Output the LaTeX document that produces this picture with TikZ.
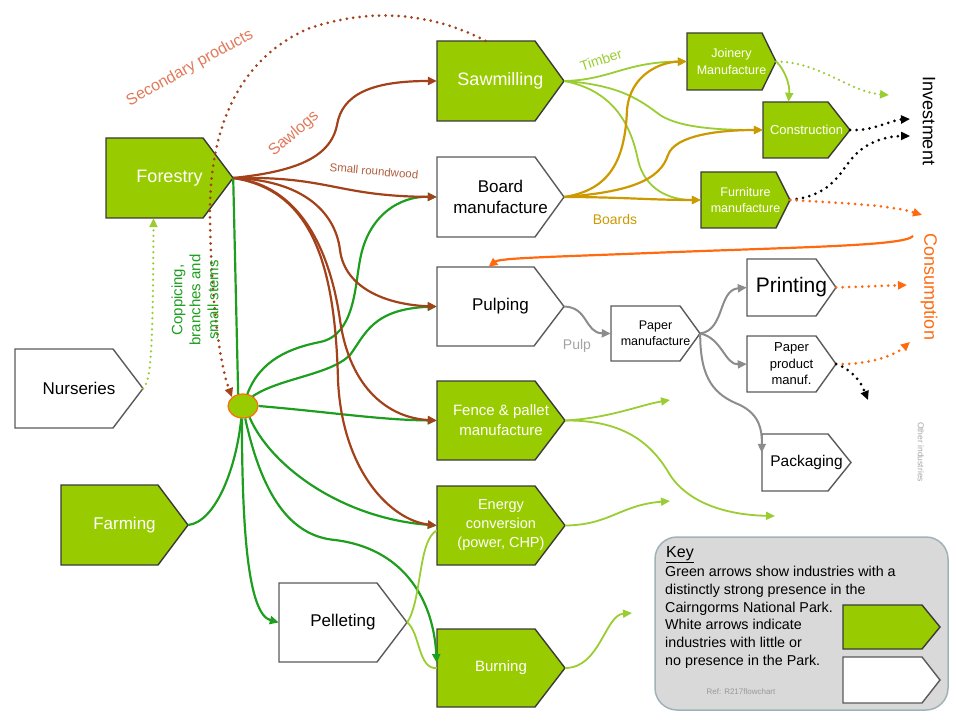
\documentclass[tikz,border=0pt]{standalone}
\usepackage{fontspec}
\setmainfont{Liberation Sans}
\usetikzlibrary{arrows.meta,shapes.geometric}
\definecolor{limefill}{HTML}{99CC00}
\definecolor{bordg}{HTML}{3A3A3A}
\definecolor{bordw}{HTML}{5A5A5A}
\definecolor{brn}{HTML}{A3421A}
\definecolor{dgreen}{HTML}{1E9E1E}
\definecolor{lgreen}{HTML}{9ACD32}
\definecolor{goldc}{HTML}{CC9900}
\definecolor{orgc}{HTML}{FF6A10}
\definecolor{gryc}{HTML}{8C8C8C}
\definecolor{salmonc}{HTML}{E07A5A}
\definecolor{keyfill}{HTML}{D9D9D9}
\definecolor{keybord}{HTML}{A0B2B8}
% name, x1, y1, x2(tip), y2, point depth, style, font, text
\newcommand{\abox}[9]{%
  \filldraw[#7] (#2,#3) -- ({#4-#6},#3) -- (#4,{(#3+#5)/2}) -- ({#4-#6},#5) -- (#2,#5) -- cycle;
  \node[inner sep=0pt, minimum width={(#4-#2)*1pt}, minimum height={(#5-#3)*1pt}, align=center, font={#8}, #7text] (#1) at ({(#2+#4)/2},{(#3+#5)/2}) {#9};
}
\begin{document}
\begin{tikzpicture}[x=1pt,y=-1pt,
  gbox/.style={fill=limefill, draw=bordg, line width=1.4pt, line join=miter},
  gboxtext/.style={text=white},
  wbox/.style={fill=white, draw=bordw, line width=1.4pt, line join=miter},
  wboxtext/.style={text=black},
  tip/.style={-{Triangle[length=9pt,width=8pt]}},
  brline/.style={draw=brn, line width=2.2pt, tip},
  dgline/.style={draw=dgreen, line width=2.2pt},
  lgline/.style={draw=lgreen, line width=1.8pt},
  gdline/.style={draw=goldc, line width=2.2pt, tip},
  gyline/.style={draw=gryc, line width=2pt, tip},
  dotline/.style={line width=3pt, line cap=round, dash pattern=on 0pt off 6.5pt, -{Triangle[length=9pt,width=8pt]}},
  lbl/.style={inner sep=0pt}
]
\useasboundingbox (0,0) rectangle (956,722);

% ---------- boxes ----------
\abox{forestry}{106}{138}{233}{218}{30}{gbox}{\fontsize{18}{20}\selectfont}{Forestry}
\abox{saw}{437}{41}{564}{121}{29}{gbox}{\fontsize{18}{20}\selectfont}{Sawmilling}
\abox{board}{437}{157}{564}{237}{29}{wbox}{\fontsize{17}{21}\selectfont}{Board\\manufacture}
\abox{pulp}{437}{267}{564}{346}{30}{wbox}{\fontsize{17}{20}\selectfont}{Pulping}
\abox{fence}{437}{381}{565}{460}{30}{gbox}{\fontsize{15}{20}\selectfont}{Fence \& pallet\\manufacture}
\abox{energy}{437}{486}{565}{565}{30}{gbox}{\fontsize{14.5}{19}\selectfont}{Energy\\conversion\\(power, CHP)}
\abox{burning}{437}{629}{565}{707}{30}{gbox}{\fontsize{15}{18}\selectfont}{Burning}
\abox{pellet}{279}{583}{407}{662}{30}{wbox}{\fontsize{17}{20}\selectfont}{Pelleting}
\abox{farming}{61}{485}{188}{565}{30}{gbox}{\fontsize{17}{20}\selectfont}{Farming}
\abox{nurseries}{15}{349}{143}{428}{30}{wbox}{\fontsize{17}{20}\selectfont}{Nurseries}
\abox{joinery}{687}{33}{776}{90}{14}{gbox}{\fontsize{12.5}{16.5}\selectfont}{Joinery\\Manufacture}
\abox{construction}{763}{102}{850}{158}{22}{gbox}{\fontsize{13}{16}\selectfont}{Construction}
\abox{furniture}{701}{172}{790}{228}{14}{gbox}{\fontsize{12.5}{16.5}\selectfont}{Furniture\\manufacture}
\abox{paperm}{611}{306}{700}{361}{20}{wbox}{\fontsize{12.5}{16}\selectfont}{Paper\\manufacture}
\abox{printing}{747}{259}{836}{316}{20}{wbox}{\fontsize{21}{24}\selectfont}{Printing}
\abox{paperp}{747}{336}{836}{392}{20}{wbox}{\fontsize{13}{16.5}\selectfont}{Paper\\product\\manuf.}
\abox{packaging}{762}{434}{851}{491}{23}{wbox}{\fontsize{15.5}{18}\selectfont}{Packaging}

% hub
\node[ellipse, fill=limefill, draw=orgc, line width=1.2pt, minimum width=30pt, minimum height=24pt, inner sep=0pt] (hub) at (243,406) {};

% free end points
\coordinate (inv1) at (889,95);
\coordinate (inv2) at (910,119);
\coordinate (inv3) at (910,136);
\coordinate (cons0) at (913,236);
\coordinate (cons1) at (922,215);
\coordinate (cons2) at (907,285);
\coordinate (cons3) at (910,342);
\coordinate (oth1) at (868,400);
\coordinate (out1) at (670,400);
\coordinate (out2) at (775,516);
\coordinate (out3) at (670,501);
\coordinate (out4) at (632,613);

% ---------- dark green lines ----------
\draw[dgline] (forestry.east) -- (hub.112);
\draw[dgline, tip] (hub.70) .. controls (260,360) and (290,348) .. (320,342) .. controls (355,335) and (355,285) .. (360,260) .. controls (368,215) and (400,196) .. (board.west);
\draw[dgline, tip] (hub.45) .. controls (280,378) and (330,375) .. (350,355) .. controls (365,335) and (372,309) .. (pulp.west);
\draw[dgline, tip] (hub.east) .. controls (330,412) and (380,420) .. (fence.west);
\draw[dgline, tip] (hub.-60) .. controls (270,465) and (340,518) .. (energy.west);
\draw[dgline, tip] (hub.-80) .. controls (262,495) and (290,536) .. (335,540) .. controls (400,548) and (433,595) .. ([yshift=5pt]burning.west);
\draw[dgline, tip] (hub.-95) .. controls (242,530) and (248,614) .. (pellet.west);
\draw[dgline] (farming.east) .. controls (215,522) and (236,470) .. (hub.-98);

% ---------- brown lines ----------
\draw[brline] (forestry.east) .. controls (290,172) and (330,160) .. (337,125) .. controls (342,95) and (370,81) .. (saw.west);
\draw[brline] (forestry.east) .. controls (330,176) and (335,196) .. (board.west);
\draw[brline] (forestry.east) .. controls (300,180) and (335,210) .. (340,250) .. controls (345,290) and (390,305) .. (pulp.west);
\draw[brline] (forestry.east) .. controls (300,185) and (330,250) .. (340,320) .. controls (350,390) and (390,418) .. (fence.west);
\draw[brline] (forestry.east) .. controls (310,190) and (335,260) .. (338,380) .. controls (342,470) and (390,520) .. (energy.west);

% secondary products dotted
\draw[dotline, brn] ([xshift=-15pt]saw.north) .. controls (430,12) and (370,8) .. (310,28) .. controls (245,55) and (208,120) .. (210,220) .. controls (212,320) and (222,370) .. (hub.north west);

% nurseries dotted
\draw[dotline, lgreen, line width=2.5pt, dash pattern=on 0pt off 5.5pt] (nurseries.east) .. controls (150,380) and (153,365) .. ([xshift=-16pt]forestry.south);

% ---------- sawmilling / boards ----------
\draw[lgline, tip] (saw.east) .. controls (610,80) and (625,62) .. (joinery.west);
\draw[lgline, tip] (saw.east) .. controls (620,85) and (640,100) .. (660,115) .. controls (680,128) and (720,130) .. (construction.west);
\draw[lgline, tip] (saw.east) .. controls (610,90) and (630,120) .. (638,160) .. controls (645,190) and (670,200) .. (furniture.west);
\draw[gdline] (board.east) .. controls (610,190) and (625,160) .. (627,110) .. controls (630,75) and (660,62) .. (joinery.west);
\draw[gdline] (board.east) .. controls (630,192) and (660,180) .. (668,155) .. controls (675,135) and (720,130) .. (construction.west);
\draw[gdline] (board.east) .. controls (620,197) and (650,200) .. (furniture.west);
\draw[lgline, tip] (joinery.east) .. controls (785,70) and (790,85) .. ([xshift=-18pt]construction.north);

% investment / consumption dotted
\draw[dotline, lgreen, line width=2.5pt, dash pattern=on 0pt off 5.5pt] (joinery.east) .. controls (820,62) and (850,92) .. (inv1);
\draw[dotline, black] (construction.east) .. controls (875,131) and (890,120) .. (inv2);
\draw[dotline, black] (furniture.east) .. controls (835,195) and (840,170) .. (855,155) .. controls (870,140) and (890,136) .. (inv3);
\draw[dotline, orgc] (furniture.east) .. controls (840,203) and (890,205) .. (cons1);
\draw[dotline, orgc] (printing.east) -- (cons2);
\draw[dotline, orgc] (paperp.east) .. controls (870,365) and (895,355) .. (cons3);
\draw[dotline, black] (paperp.east) .. controls (852,370) and (860,380) .. (oth1);
\draw[draw=orgc, line width=2.2pt, tip] (cons0) .. controls (905,246) and (800,247) .. (650,253) .. controls (550,257) and (500,258) .. ([xshift=-12pt]pulp.north);

% gray paper lines
\draw[gyline] (pulp.east) .. controls (588,307) and (585,333) .. (paperm.west);
\draw[gyline] (paperm.east) .. controls (725,330) and (718,290) .. (printing.west);
\draw[gyline] (paperm.east) .. controls (722,338) and (725,365) .. (paperp.west);
\draw[gyline] (paperm.east) .. controls (700,380) and (715,395) .. (740,405) .. controls (760,415) and (762,430) .. ([yshift=-19pt]packaging.north west);

% light green outputs
\draw[lgline, tip] (fence.east) .. controls (610,418) and (640,405) .. (out1);
\draw[lgline, tip] (fence.east) .. controls (620,420) and (650,440) .. (670,475) .. controls (690,505) and (730,515) .. (out2);
\draw[lgline, tip] (energy.east) .. controls (610,525) and (620,505) .. (out3);
\draw[lgline, tip] (burning.east) .. controls (600,668) and (605,615) .. (out4);
\draw[lgline] (pellet.east) .. controls (422,600) and (418,540) .. ([yshift=-5pt]energy.west);
\draw[lgline] (pellet.east) .. controls (420,632) and (418,670) .. (burning.west);

% ---------- labels ----------
\node[lbl, text=salmonc, rotate=29, font=\fontsize{16}{18}\selectfont] (lsec) at (190,68) {Secondary products};
\node[lbl, text=salmonc, rotate=41, font=\fontsize{16}{18}\selectfont] (lsaw) at (294,134) {Sawlogs};
\node[lbl, text=brn!85, rotate=-5, font=\fontsize{11.5}{13}\selectfont] (lsmall) at (374,171) {Small roundwood};
\node[lbl, text=lgreen, rotate=18, font=\fontsize{14}{16}\selectfont] (ltimber) at (601,60) {Timber};
\node[lbl, text=goldc, font=\fontsize{14}{16}\selectfont] (lboards) at (615,219) {Boards};
\node[lbl, text=gryc!80, font=\fontsize{14}{16}\selectfont] (lpulp) at (577,346) {Pulp};
\node[lbl, text=dgreen, rotate=90, align=center, font=\fontsize{15}{18}\selectfont] (lcop) at (195,300) {Coppicing,\\branches and\\small stems};
\node[lbl, text=black, rotate=-90, font=\fontsize{18}{20}\selectfont] (linv) at (929,121) {Investment};
\node[lbl, text=orgc, rotate=-90, font=\fontsize{18}{20}\selectfont] (lcons) at (929,287) {Consumption};
\node[lbl, text=gray!70, rotate=-90, font=\fontsize{8.5}{10}\selectfont] (loth) at (921,452) {Other industries};

% ---------- key ----------
\filldraw[fill=keyfill, draw=keybord, line width=1.5pt, rounded corners=22pt] (655,537) rectangle (948,710);
\abox{keyg}{843}{605}{940}{649}{18}{gbox}{\normalsize}{}
\abox{keyw}{843}{657}{940}{703}{18}{wbox}{\normalsize}{}
\node[lbl, anchor=south west, font=\fontsize{16}{18}\selectfont] (keyt) at (666,563) {\underline{Key}};
\node[lbl, anchor=north west, align=left, font=\fontsize{14.3}{17.8}\selectfont] (keytxt) at (665,566) {Green arrows show industries with a\\distinctly strong presence in the\\Cairngorms National Park.\\White arrows indicate\\industries with little or\\no presence in the Park.};
\node[lbl, text=gray!80, font=\fontsize{8}{10}\selectfont] (keyref) at (741,692) {Ref: R217flowchart};
\end{tikzpicture}
\end{document}
